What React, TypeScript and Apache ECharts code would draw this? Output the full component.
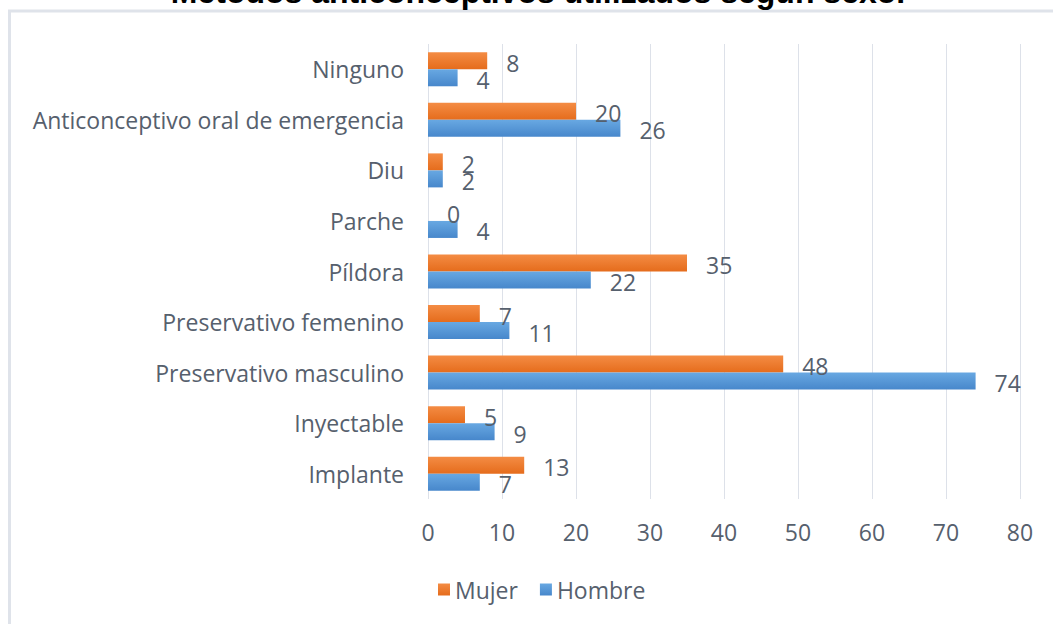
import React, { useEffect, useRef } from "react";
import * as echarts from "echarts";

const categories = [
  "Implante",
  "Inyectable",
  "Preservativo masculino",
  "Preservativo femenino",
  "Píldora",
  "Parche",
  "Diu",
  "Anticonceptivo oral de emergencia",
  "Ninguno",
];
const mujer = [13, 5, 48, 7, 35, 0, 2, 20, 8];
const hombre = [7, 9, 74, 11, 22, 4, 2, 26, 4];
const xTicks = { min: 0, max: 80, interval: 10 };
const title = "Métodos anticonceptivos utilizados según sexo.";

const textColor = "#56606d";
const font = "'Open Sans', sans-serif";

export default function App() {
  const ref = useRef<HTMLDivElement>(null);
  useEffect(() => {
    if (!ref.current) return;
    const chart = echarts.init(ref.current, null, { renderer: "svg" });
    const orange = new echarts.graphic.LinearGradient(0, 0, 0, 1, [
      { offset: 0, color: "#f48c44" },
      { offset: 1, color: "#e56c1c" },
    ]);
    const blue = new echarts.graphic.LinearGradient(0, 0, 0, 1, [
      { offset: 0, color: "#68a8e2" },
      { offset: 1, color: "#4787cb" },
    ]);
    const labelCfg = {
      show: true,
      position: "right",
      distance: 19,
      offset: [0, 2],
      color: textColor,
      fontSize: 23,
      fontFamily: font,
    };
    chart.setOption({
      animation: false,
      backgroundColor: "#ffffff",
      graphic: [
        {
          type: "rect",
          shape: { x: 9.5, y: 11, width: 1100, height: 700 },
          style: { fill: "none", stroke: "#dfe3ea", lineWidth: 3 },
          z: 0,
        },
        {
          type: "text",
          x: 538,
          y: -8,
          style: {
            text: title,
            font: "bold 32px 'Liberation Sans', Arial, sans-serif",
            fill: "#000000",
            align: "center",
            verticalAlign: "middle",
          },
          z: 10,
        },
      ],
      grid: { left: 428, right: 33, top: 44, bottom: 125, containLabel: false },
      legend: {
        data: ["Mujer", "Hombre"],
        left: 433,
        top: 573,
        icon: "rect",
        itemWidth: 12,
        itemHeight: 12,
        itemGap: 22,
        textStyle: { color: textColor, fontSize: 23, fontFamily: font },
      },
      xAxis: {
        type: "value",
        min: xTicks.min,
        max: xTicks.max,
        interval: xTicks.interval,
        axisLine: { show: false },
        axisTick: { show: false },
        axisLabel: { color: textColor, fontSize: 23, fontFamily: font, margin: 21 },
        splitLine: { show: true, lineStyle: { color: "#dde1e9", width: 1 } },
      },
      yAxis: {
        type: "category",
        data: categories,
        axisLine: { show: false },
        axisTick: { show: false },
        axisLabel: { color: textColor, fontSize: 23, fontFamily: font, margin: 24 },
        splitLine: { show: false },
      },
      series: [
        {
          name: "Mujer",
          type: "bar",
          data: mujer,
          barWidth: 17,
          barGap: "0%",
          itemStyle: { color: orange },
          label: labelCfg,
        },
        {
          name: "Hombre",
          type: "bar",
          data: hombre,
          barWidth: 17,
          barGap: "0%",
          itemStyle: { color: blue },
          label: labelCfg,
        },
      ],
    });
    return () => chart.dispose();
  }, []);
  return (
    <div
      ref={ref}
      style={{ position: "fixed", left: 0, top: 0, width: 1053, height: 624 }}
    />
  );
}
